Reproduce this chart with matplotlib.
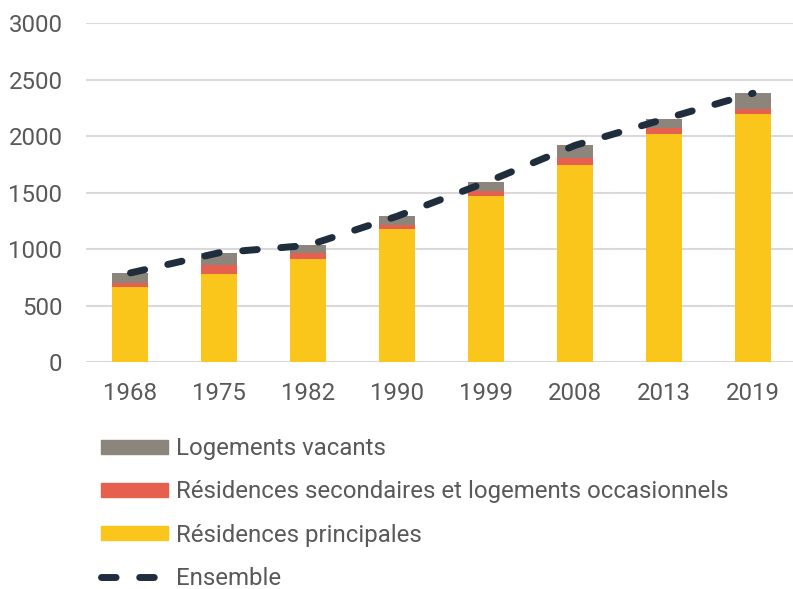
import matplotlib
matplotlib.use("Agg")
import matplotlib.pyplot as plt
from matplotlib.patches import Patch
from matplotlib.lines import Line2D

years = ["1968", "1975", "1982", "1990", "1999", "2008", "2013", "2019"]
res_principales = [668, 782, 917, 1176, 1470, 1749, 2017, 2199]
res_secondaires = [35, 82, 53, 37, 47, 59, 59, 41]
log_vacants = [88, 106, 65, 80, 76, 112, 76, 141]
ensemble = [791, 970, 1035, 1293, 1593, 1920, 2152, 2381]

c_rp = "#FBC61B"
c_rs = "#E5604F"
c_lv = "#8C857B"
c_line = "#1F2D3D"
c_text = "#595959"

plt.rcParams['font.family'] = ['Roboto', 'DejaVu Sans']

fig = plt.figure(figsize=(7.93, 5.89), dpi=100)
ax = fig.add_axes([86/793, (589-362.3)/589, 711.5/793, 339/589])

x = list(range(len(years)))
w = 0.405
ax.bar(x, res_principales, w, color=c_rp, zorder=2)
bottom2 = res_principales
ax.bar(x, res_secondaires, w, bottom=bottom2, color=c_rs, zorder=2)
bottom3 = [a + b for a, b in zip(res_principales, res_secondaires)]
ax.bar(x, log_vacants, w, bottom=bottom3, color=c_lv, zorder=2)
ax.plot(x, ensemble, color=c_line, lw=5, dashes=(2.1, 3.4),
        dash_capstyle='round', zorder=3)

ax.set_xlim(-0.5, 7.5)
ax.set_ylim(0, 3000)
ax.set_yticks(range(0, 3001, 500))
ax.set_xticks(x)
ax.set_xticklabels(years)
ax.yaxis.grid(True, color="#D9D9D9", lw=1.5, zorder=0)
ax.set_axisbelow(True)
for s in ax.spines.values():
    s.set_visible(False)
ax.tick_params(axis='both', length=0, labelsize=17.3, labelcolor=c_text)
ax.tick_params(axis='y', pad=17)
ax.tick_params(axis='x', pad=14)

handles = [Patch(color=c_lv), Patch(color=c_rs), Patch(color=c_rp),
           Line2D([0], [0], color=c_line, lw=5, dashes=(2.1, 3.4), dash_capstyle='round')]
labels = ["Logements vacants",
          "Résidences secondaires et logements occasionnels",
          "Résidences principales",
          "Ensemble"]
fig.legend(handles, labels, loc='upper left', bbox_to_anchor=(94/793, 1 - 430/589),
           frameon=False, fontsize=17.3, labelcolor=c_text,
           handlelength=2.8, handleheight=0.54, handletextpad=0.33,
           labelspacing=0.84, borderaxespad=0, borderpad=0.3)

fig.savefig("out.png", dpi=100)
